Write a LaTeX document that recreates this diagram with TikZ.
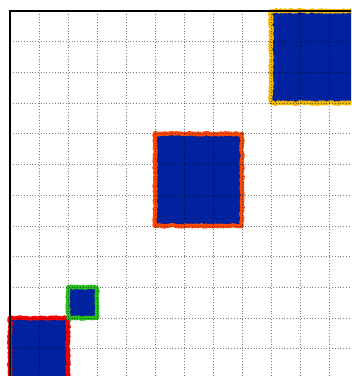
\documentclass[tikz,border=0pt]{standalone}
\usepackage{xcolor}
\usetikzlibrary{decorations.pathmorphing}

\definecolor{blockblue}{RGB}{0,34,158}
\definecolor{blockred}{RGB}{250,0,0}
\definecolor{blockgreen}{RGB}{40,190,30}
\definecolor{blockorange}{RGB}{255,72,0}
\definecolor{blockgold}{RGB}{240,182,0}

\tikzset{
  gridline/.style={black, opacity=0.5, dotted, line width=0.8pt},
  block/.style={fill=blockblue, draw=#1, line width=4pt, line join=round,
    decorate, decoration={random steps, segment length=1.2pt, amplitude=0.9pt}},
}

\begin{document}
\begin{tikzpicture}[x=29pt, y={(0pt,-30.7pt)}]
  \useasboundingbox (-0.345,-0.358) rectangle (11.759,11.889);
  \clip (-0.345,-0.358) rectangle (11.759,11.889);
  \fill[white] (-0.345,-0.358) rectangle (11.759,11.889);

  % blocks
  \draw[block=blockred] (0,10) rectangle (2,12.5);
  \draw[block=blockgreen] (2,9) rectangle (3,10);
  \draw[block=blockorange] (5,4) rectangle (8,7);
  \draw[block=blockgold] (9,0) rectangle (12.5,3);

  % grid
  \foreach \i in {1,...,11} {
    \draw[gridline] (\i,0) -- (\i,12.5);
    \draw[gridline] (0,\i) -- (12.5,\i);
  }

  % frame
  \draw[line width=1.3pt] (0,12.5) -- (0,0) -- (12.5,0);
\end{tikzpicture}
\end{document}
